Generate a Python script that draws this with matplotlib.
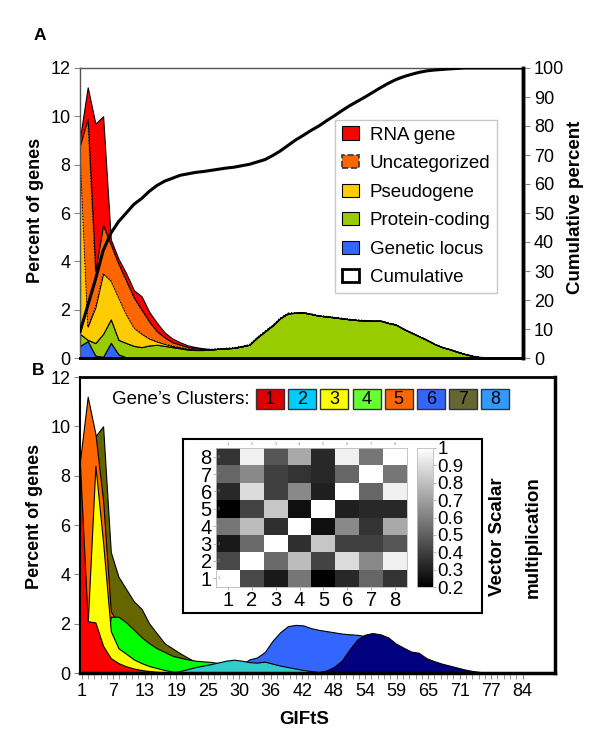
import numpy as np
import matplotlib.pyplot as plt
from matplotlib.patches import Patch, Rectangle

plt.rcParams['font.family'] = ['Liberation Sans', 'DejaVu Sans']

W, H = 600, 739


def fx(x):
    return x / W


def fy(y):
    return 1 - y / H


def pad(v, n):
    return np.pad(np.array(v, dtype=float), (0, n - len(v)))


# ---------------- panel A data (percent of genes per GIFtS bin) ----------------
n_a = 59
genetic_locus = [0.5, 0.7, 0.1, 0.05, 0.63, 0.15, 0.03]
protein_coding = [0.5, 0.05, 0.52, 0.95, 0.97, 0.6, 0.59, 0.5, 0.45, 0.52,
                  0.55, 0.5, 0.45, 0.4, 0.35, 0.33, 0.33, 0.35, 0.38, 0.4,
                  0.42, 0.48, 0.55, 0.85, 1.1, 1.35, 1.65, 1.85, 1.87, 1.88,
                  1.82, 1.75, 1.72, 1.68, 1.64, 1.6, 1.57, 1.55, 1.54, 1.54,
                  1.45, 1.38, 1.2, 1.05, 0.9, 0.75, 0.58, 0.45, 0.36, 0.25,
                  0.16, 0.08, 0.03, 0, 0, 0, 0, 0, 0]
pseudogene = [7.5, 0.55, 1.48, 2.5, 1.6, 1.75, 1.18, 0.75, 0.55, 0.28, 0.13,
              0.08, 0.05, 0.04, 0.03, 0.02, 0.01]
uncategorized = [0.3, 8.6, 1.5, 2.0, 1.5, 1.4, 1.4, 1.25, 1.0, 0.7, 0.42,
                 0.27, 0.15, 0.11, 0.07, 0.05, 0.03, 0.01]
rna_gene = [0.3, 1.3, 6.1, 4.5, 0.2, 0.2, 0.3, 0.3, 0.55, 0.4, 0.35, 0.2,
            0.15, 0.1, 0.07, 0.05, 0.03, 0.01]
cumulative = [9, 18, 27, 37, 43, 47, 50, 53, 55, 57.5, 59.5, 61, 62, 63, 63.5,
              64, 64.3, 64.7, 65.1, 65.5, 65.8, 66.3, 66.8, 67.6, 68.4, 69.8,
              71.4, 73.3, 75.2, 76.8, 78.5, 80, 81.8, 83.5, 85.3, 87, 88.5, 90,
              91.6, 93.2, 94.7, 96, 97, 97.8, 98.5, 99, 99.3, 99.5, 99.7, 99.85,
              100, 100, 100, 100, 100, 100, 100, 100, 100]

cat_names = ['Genetic locus', 'Protein-coding', 'Pseudogene', 'Uncategorized', 'RNA gene']
cat_colors = ['#3366FF', '#99CC00', '#FFCC00', '#FF6600', '#FF0000']

# ---------------- panel B data (percent of genes per cluster) ----------------
n_b = 61
cluster1 = [8.4, 2.1, 2.05, 1.1, 0.6, 0.4, 0.27, 0.18, 0.12, 0.08, 0.05, 0.03, 0.01]
cluster2 = [0] * 12 + [0.02, 0.08, 0.16, 0.24, 0.3, 0.36, 0.43, 0.5, 0.54, 0.5,
                       0.44, 0.42, 0.46, 0.38, 0.3, 0.24, 0.18, 0.12, 0.08, 0.04, 0.02]
cluster3 = [0, 2.0, 8.4, 5.3, 1.7, 1.0, 0.78, 0.55, 0.4, 0.28, 0.2, 0.12, 0.06, 0.02]
cluster4 = [0, 0, 0, 0, 2.28, 2.28, 2.05, 1.75, 1.45, 1.2, 1.0, 0.85, 0.7, 0.62,
            0.55, 0.5, 0.47, 0.45, 0.4, 0.3, 0.15]
cluster5 = [8.6, 11.2, 9.7, 7.0, 2.5, 2.0, 1.6, 1.2, 0.9, 0.6, 0.45, 0.3, 0.2, 0.1]
cluster6 = [0] * 19 + [0.1, 0.2, 0.35, 0.55, 0.63, 0.85, 1.3, 1.65, 1.9, 1.95, 1.93,
                       1.82, 1.75, 1.7, 1.65, 1.6, 1.57, 1.55, 1.5, 1.3, 1.0, 0.6,
                       0.3, 0.1]
cluster7 = [8.8, 9.5, 9.6, 10.0, 4.9, 3.9, 3.4, 2.9, 2.6, 2.0, 1.6, 1.2, 1.0, 0.8,
            0.62, 0.45, 0.32, 0.22, 0.12, 0.05]
cluster8 = [0] * 31 + [0.04, 0.1, 0.25, 0.5, 0.95, 1.35, 1.55, 1.62, 1.57, 1.45,
                       1.2, 1.03, 0.87, 0.82, 0.6, 0.48, 0.38, 0.3, 0.22, 0.14,
                       0.08, 0.04, 0.02]

# back to front drawing order in the picture
cluster_layers = [(cluster7, '#666600'), (cluster5, '#FF6600'), (cluster6, '#3366FF'),
                  (cluster8, '#000080'), (cluster4, '#00FF00'), (cluster2, '#33CCCC'),
                  (cluster3, '#FFFF00'), (cluster1, '#FF0000')]
legend_colors = ['#DD0000', '#00CCFF', '#FFFF00', '#66FF33', '#FF6600', '#3366FF',
                 '#666633', '#3399FF']

# x tick labels (GIFtS)
gifts_labels = ['1', '7', '13', '19', '25', '30', '36', '42', '48', '54', '59',
                '65', '71', '77', '84']

# vector scalar multiplication between cluster profiles (row 1 .. row 8)
similarity = [
    [1.00, 0.43, 0.28, 0.57, 0.20, 0.33, 0.52, 0.36],
    [0.43, 1.00, 0.53, 0.79, 0.41, 0.89, 0.63, 0.95],
    [0.28, 0.53, 1.00, 0.35, 0.82, 0.40, 0.40, 0.47],
    [0.57, 0.79, 0.35, 1.00, 0.25, 0.63, 0.36, 0.73],
    [0.20, 0.41, 0.82, 0.25, 1.00, 0.30, 0.33, 0.33],
    [0.33, 0.89, 0.40, 0.63, 0.30, 1.00, 0.52, 0.95],
    [0.52, 0.63, 0.40, 0.36, 0.33, 0.52, 1.00, 0.57],
    [0.36, 0.95, 0.47, 0.73, 0.33, 0.95, 0.57, 1.00],
]
cbar_ticks = [0.2, 0.3, 0.4, 0.5, 0.6, 0.7, 0.8, 0.9, 1.0]

# ---------------------------------------------------------------------------
fig = plt.figure(figsize=(6, 7.39), dpi=100)

major_pos = np.linspace(0.22, 57.5, 15)
minor_pos = np.linspace(0.22, 57.5, 71)

# ---- panel A ----
axa = fig.add_axes([fx(80), fy(358), fx(523) - fx(80), fy(68) - fy(358)])
xa = np.arange(n_a)
layers = [pad(genetic_locus, n_a), pad(protein_coding, n_a), pad(pseudogene, n_a),
          pad(uncategorized, n_a), pad(rna_gene, n_a)]
polys = axa.stackplot(xa, *layers, colors=cat_colors, edgecolor='black', linewidth=0.8)
polys[3].set_linestyle(':')
axa.set_xlim(0, 57.5)
axa.set_ylim(0, 12)
axa.set_xticks([])
axa.set_yticks(range(0, 13, 2))
axa.tick_params(axis='y', labelsize=13, length=4, color='#888888', pad=3)
for s in ['left', 'top']:
    axa.spines[s].set_color('#555555')
    axa.spines[s].set_linewidth(1)
axa.spines['bottom'].set_linewidth(2)
axa.spines['right'].set_linewidth(2.5)

axc = axa.twinx()
axc.plot(xa, cumulative, color='black', lw=2.2, solid_capstyle='round')
axc.set_ylim(0, 100)
axc.set_yticks(range(0, 101, 10))
axc.tick_params(axis='y', labelsize=13, length=5, color='#888888', pad=3)
axc.spines['right'].set_linewidth(2.5)
axc.spines['bottom'].set_linewidth(2)
for s in ['left', 'top']:
    axc.spines[s].set_visible(False)

handles = [Patch(facecolor='#FF0000', edgecolor='black', lw=0.8),
           Patch(facecolor='#FF6600', edgecolor='#333333', lw=1.2, linestyle='--'),
           Patch(facecolor='#FFCC00', edgecolor='black', lw=0.8),
           Patch(facecolor='#99CC00', edgecolor='black', lw=0.8),
           Patch(facecolor='#3366FF', edgecolor='black', lw=0.8),
           Patch(facecolor='white', edgecolor='black', lw=2)]
labels = ['RNA gene', 'Uncategorized', 'Pseudogene', 'Protein-coding',
          'Genetic locus', 'Cumulative']
leg = axc.legend(handles, labels, loc='upper left', bbox_to_anchor=(0.576, 0.821),
                 borderaxespad=0, frameon=True, fancybox=False, fontsize=13.5,
                 handlelength=0.9, handleheight=0.7, handletextpad=0.6,
                 labelspacing=0.61, borderpad=0.35)
leg.get_frame().set_edgecolor('#BBBBBB')
leg.get_frame().set_linewidth(1)

fig.text(fx(40), fy(36), 'A', fontsize=12.5, fontweight='bold', ha='center', va='center')
fig.text(fx(36), fy(210), 'Percent of genes', rotation=90, fontsize=13,
         fontweight='bold', ha='center', va='center')
fig.text(fx(576), fy(207), 'Cumulative percent', rotation=90, fontsize=13.5,
         fontweight='bold', ha='center', va='center')

# ---- panel B ----
axb = fig.add_axes([fx(80), fy(673), fx(555) - fx(80), fy(377) - fy(673)])
xb = np.arange(n_b)
for vals, col in cluster_layers:
    axb.fill_between(xb, 0, pad(vals, n_b), facecolor=col, edgecolor='black', linewidth=0.8)
axb.set_xlim(0, 61.7)
axb.set_ylim(0, 12)
axb.set_yticks(range(0, 13, 2))
axb.set_xticks(major_pos, gifts_labels)
axb.set_xticks(minor_pos, minor=True)
axb.tick_params(axis='both', which='both', labelsize=13, length=4, color='#888888', pad=3)
axb.spines['left'].set_linewidth(1.5)
axb.spines['top'].set_linewidth(2)
axb.spines['right'].set_linewidth(2.5)
axb.spines['bottom'].set_linewidth(2.5)

fig.text(fx(38), fy(370), 'B', fontsize=12.5, fontweight='bold', ha='center', va='center')
fig.text(fx(35), fy(516), 'Percent of genes', rotation=90, fontsize=13,
         fontweight='bold', ha='center', va='center')
fig.text(fx(304), fy(720), 'GIFtS', fontsize=13.5, fontweight='bold',
         ha='center', va='center')

# cluster colour key
fig.text(fx(250), fy(399), 'Gene\u2019s Clusters:', fontsize=13.5, ha='right', va='center')
for i, col in enumerate(legend_colors):
    x0 = 256 + 32.2 * i
    fig.patches.append(Rectangle((fx(x0), fy(409)), fx(28), 20 / H, facecolor=col,
                                 edgecolor='#333333', lw=1, transform=fig.transFigure,
                                 figure=fig))
    fig.text(fx(x0 + 14), fy(399), str(i + 1), fontsize=13, ha='center', va='center')

# ---- inset: similarity matrix ----
frame = fig.add_axes([fx(183), fy(613), fx(482) - fx(183), fy(439) - fy(613)])
frame.set_xticks([])
frame.set_yticks([])
for s in frame.spines.values():
    s.set_linewidth(1.5)

hm = fig.add_axes([fx(216), fy(587), fx(407) - fx(216), fy(448) - fy(587)])
im = hm.imshow(np.array(similarity), cmap='gray', vmin=0.2, vmax=1.0, origin='lower',
               aspect='auto', extent=(0.5, 8.5, 0.5, 8.5))
hm.set_xticks(range(1, 9))
hm.set_yticks(range(1, 9))
hm.tick_params(labelsize=14.5, length=2, color='#BBBBBB', pad=1)
for s in hm.spines.values():
    s.set_color('#BBBBBB')
    s.set_linewidth(0.6)
for k in range(1, 9):
    hm.text(k, 8.62, str(k), fontsize=3, color='#888888', ha='center', va='bottom')
    hm.text(0.56, k, str(k), fontsize=3, color='#888888', ha='left', va='center')

cax = fig.add_axes([fx(417), fy(587), fx(433) - fx(417), fy(448) - fy(587)])
cb = fig.colorbar(im, cax=cax, ticks=cbar_ticks)
cb.ax.set_yticklabels(['0.2', '0.3', '0.4', '0.5', '0.6', '0.7', '0.8', '0.9', '1'])
cb.ax.tick_params(labelsize=13.5, length=2, color='#BBBBBB', pad=1)
cb.outline.set_edgecolor('#BBBBBB')
cb.outline.set_linewidth(0.6)

fig.text(fx(498), fy(537), 'Vector Scalar', rotation=90, fontsize=13.5,
         fontweight='bold', ha='center', va='center')
fig.text(fx(533), fy(537), 'multiplication', rotation=90, fontsize=13.5,
         fontweight='bold', ha='center', va='center')

fig.savefig('out.png', dpi=100)
